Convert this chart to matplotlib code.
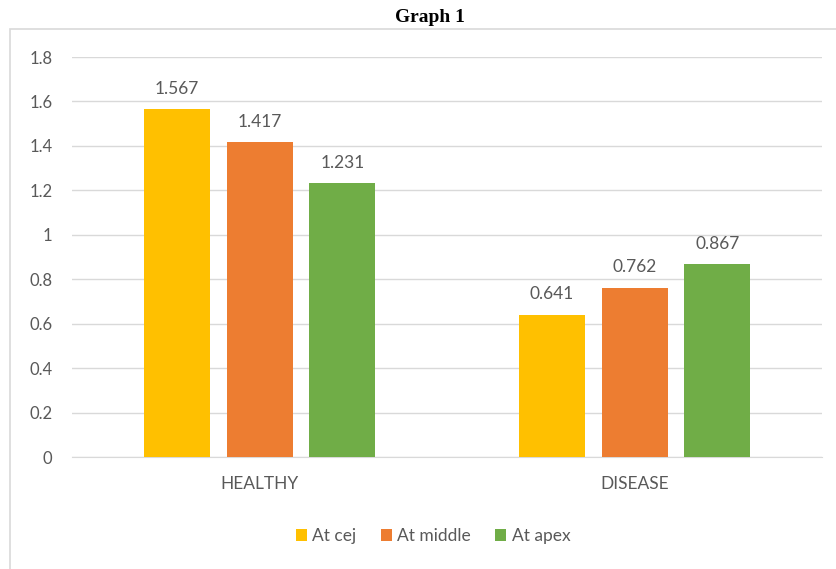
import numpy as np
import matplotlib.pyplot as plt
from matplotlib.patches import Rectangle

groups = ["HEALTHY", "DISEASE"]
series = ["At cej", "At middle", "At apex"]
at_cej = [1.567, 0.641]
at_middle = [1.417, 0.762]
at_apex = [1.231, 0.867]
colors = ["#ffc000", "#ed7d31", "#70ad47"]

plt.rcParams['font.family'] = ['Lato', 'DejaVu Sans']
txt = "#595959"

W, H = 837, 569
fig = plt.figure(figsize=(W / 100, H / 100), dpi=100)
fig.patch.set_facecolor("white")

# outer chart border (open at the bottom/right edge of the image)
fig.patches.append(Rectangle((10 / W, -0.05), 1.0, (H - 29) / H + 0.05, transform=fig.transFigure,
                             fill=False, edgecolor="#d9d9d9", linewidth=1.2))
fig.text(430 / W, 1 - 17 / H, "Graph 1", ha="center", va="center",
         fontsize=14, fontweight="bold", family="Liberation Serif", color="black")

ax = fig.add_axes([72 / W, (H - 457) / H, 750 / W, 400 / H])
x = np.arange(len(groups))
width = 0.176
step = 0.2213
for i, (vals, name) in enumerate(zip([at_cej, at_middle, at_apex], series)):
  pos = x + (i - 1) * step
  ax.bar(pos, vals, width, color=colors[i], label=name, zorder=3)
  for p, v in zip(pos, vals):
    ax.text(p, v + 0.055, f"{v:.3f}", ha="center", va="bottom", fontsize=12.5, color=txt)

ax.set_xlim(-0.5, 1.5)
ax.set_ylim(0, 1.8)
ax.set_yticks(np.arange(0, 1.81, 0.2))
ax.set_yticklabels(["0", "0.2", "0.4", "0.6", "0.8", "1", "1.2", "1.4", "1.6", "1.8"])
ax.set_xticks(x)
ax.set_xticklabels(groups)
ax.yaxis.grid(True, color="#d9d9d9", linewidth=1, zorder=0)
for s in ax.spines.values():
  s.set_visible(False)
ax.spines["bottom"].set_visible(True)
ax.spines["bottom"].set_color("#d9d9d9")
ax.tick_params(axis="y", length=0, labelsize=12, colors=txt, pad=14)
ax.tick_params(axis="x", length=0, labelsize=12.5, colors=txt, pad=14)

ax.legend(loc="center", bbox_to_anchor=(433 / W, 1 - 536 / H), bbox_transform=fig.transFigure,
          ncol=3, frameon=False, fontsize=12.5, handlelength=0.65, handleheight=0.65,
          handletextpad=0.3, columnspacing=1.4, labelcolor=txt)

fig.savefig("out.png", dpi=100, facecolor="white")
